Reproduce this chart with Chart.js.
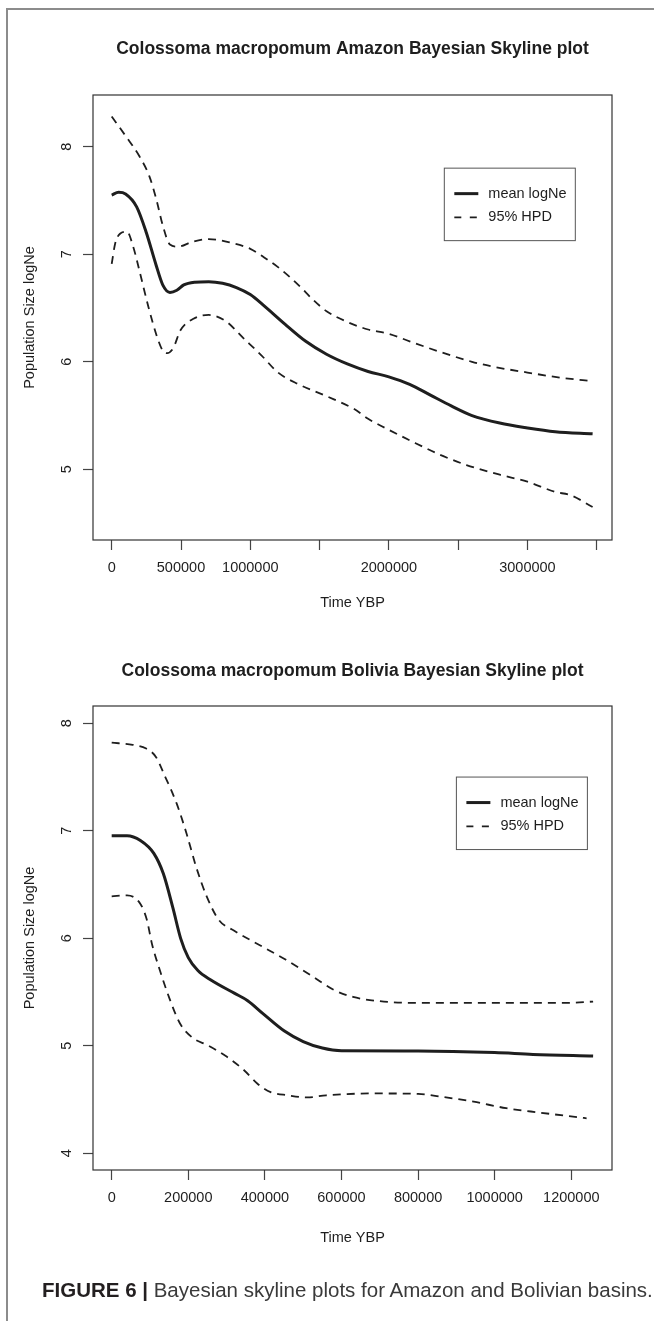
<!DOCTYPE html>
<html>
<head>
<meta charset="utf-8">
<script src="https://cdn.jsdelivr.net/npm/chart.js@4.4.1/dist/chart.umd.min.js"></script>
<style>
    body { margin: 0; background: #fff; width: 654px; height: 1321px; position: relative; overflow: hidden; font-family: "Liberation Sans", Arial, sans-serif; }
    .frame-top { position: absolute; left: 6px; top: 8px; width: 648px; height: 2px; background: #8c8c8c; }
    .frame-left { position: absolute; left: 6px; top: 8px; width: 2px; height: 1313px; background: #8c8c8c; }
    #amazon-chart { position: absolute; left: 0; top: 0; }
    #bolivia-chart { position: absolute; left: 0; top: 640px; }
    .caption { position: absolute; left: 42px; top: 1278px; font-size: 20.5px; color: #3a3a3a; white-space: nowrap; }
    .caption b { color: #231f20; }
</style>
</head>
<body>
<div class="frame-top"></div>
<div class="frame-left"></div>
<canvas id="amazon-chart" width="654" height="640"></canvas>
<canvas id="bolivia-chart" width="654" height="660"></canvas>
<div class="caption"><b>FIGURE 6 |</b> Bayesian skyline plots for Amazon and Bolivian basins.</div>

<script>
// Amazon basin
const amazonMeanTime = [0, 50000, 100000, 180000, 250000, 320000, 370000, 420000, 470000, 520000, 600000, 700000, 800000, 900000, 1000000, 1100000, 1250000, 1400000, 1550000, 1700000, 1850000, 2000000, 2150000, 2300000, 2450000, 2600000, 2800000, 3000000, 3200000, 3470000];
const amazonMean = [7.55, 7.575, 7.56, 7.44, 7.20, 6.90, 6.71, 6.645, 6.665, 6.715, 6.74, 6.745, 6.73, 6.69, 6.625, 6.52, 6.35, 6.19, 6.07, 5.98, 5.91, 5.86, 5.79, 5.69, 5.59, 5.50, 5.43, 5.385, 5.35, 5.33];
const amazonUpperTime = [0, 100000, 200000, 270000, 320000, 370000, 420000, 480000, 580000, 700000, 850000, 1000000, 1100000, 1200000, 1350000, 1450000, 1550000, 1700000, 1850000, 2000000, 2150000, 2350000, 2600000, 2750000, 3000000, 3250000, 3470000];
const amazonUpper = [8.28, 8.10, 7.91, 7.73, 7.52, 7.26, 7.09, 7.07, 7.115, 7.14, 7.11, 7.05, 6.97, 6.88, 6.71, 6.58, 6.47, 6.37, 6.30, 6.26, 6.19, 6.10, 6.00, 5.955, 5.90, 5.85, 5.82];
const amazonLowerTime = [0, 25000, 60000, 110000, 155000, 205000, 265000, 325000, 370000, 400000, 445000, 495000, 590000, 700000, 820000, 950000, 1080000, 1200000, 1350000, 1550000, 1750000, 1850000, 1980000, 2150000, 2370000, 2560000, 2800000, 3000000, 3200000, 3310000, 3470000];
const amazonLower = [6.91, 7.10, 7.19, 7.21, 7.07, 6.82, 6.51, 6.24, 6.10, 6.08, 6.13, 6.29, 6.40, 6.435, 6.38, 6.22, 6.06, 5.90, 5.79, 5.68, 5.56, 5.47, 5.38, 5.27, 5.135, 5.04, 4.95, 4.885, 4.79, 4.76, 4.65];
const amazonXTicks = [0, 500000, 1000000, 1500000, 2000000, 2500000, 3000000, 3500000];
const amazonXLabels = ['0', '500000', '1000000', '', '2000000', '', '3000000', ''];
const amazonYTicks = [5, 6, 7, 8];

// Bolivia basin
const boliviaMeanTime = [0, 40000, 75000, 110000, 135000, 160000, 180000, 200000, 225000, 260000, 320000, 355000, 395000, 450000, 500000, 550000, 600000, 800000, 1000000, 1100000, 1257000];
const boliviaMean = [6.955, 6.955, 6.91, 6.79, 6.60, 6.28, 6.00, 5.82, 5.70, 5.61, 5.49, 5.42, 5.30, 5.14, 5.04, 4.98, 4.955, 4.952, 4.937, 4.92, 4.905];
const boliviaUpperTime = [0, 55000, 90000, 115000, 140000, 170000, 195000, 220000, 248000, 280000, 320000, 395000, 455000, 525000, 580000, 630000, 700000, 780000, 1000000, 1200000, 1257000];
const boliviaUpper = [7.82, 7.80, 7.765, 7.69, 7.50, 7.25, 6.98, 6.67, 6.39, 6.17, 6.07, 5.92, 5.80, 5.645, 5.52, 5.455, 5.415, 5.40, 5.40, 5.40, 5.412];
const boliviaLowerTime = [0, 40000, 75000, 92000, 105000, 126000, 152000, 178000, 213000, 248000, 300000, 345000, 380000, 415000, 460000, 510000, 560000, 680000, 800000, 860000, 945000, 1030000, 1120000, 1240000];
const boliviaLower = [6.39, 6.40, 6.32, 6.17, 5.95, 5.70, 5.43, 5.21, 5.07, 5.01, 4.90, 4.775, 4.65, 4.57, 4.54, 4.52, 4.54, 4.557, 4.553, 4.527, 4.48, 4.42, 4.378, 4.326];
const boliviaXTicks = [0, 200000, 400000, 600000, 800000, 1000000, 1200000];
const boliviaXLabels = ['0', '200000', '400000', '600000', '800000', '1000000', '1200000'];
const boliviaYTicks = [4, 5, 6, 7, 8];

const legendLabels = ['mean logNe', '95% HPD'];

const FONT = '"Liberation Sans", Arial, sans-serif';
const INK = '#1e1e1e';

function toPoints(xs, ys) {
    return xs.map((x, i) => ({ x: x, y: ys[i] }));
}

// box, title, rotated y labels and legend, R style
const skylinePlugin = {
    id: 'skyline',
    afterDraw(chart, args, opts) {
        const { ctx, chartArea: area, scales } = chart;
        ctx.save();

        ctx.strokeStyle = '#333';
        ctx.lineWidth = 1.2;
        ctx.strokeRect(area.left, area.top, area.right - area.left, area.bottom - area.top);

        ctx.fillStyle = INK;
        ctx.font = `bold 17.5px ${FONT}`;
        ctx.textAlign = 'center';
        ctx.textBaseline = 'middle';
        ctx.fillText(opts.title, (area.left + area.right) / 2, opts.titleY);

        ctx.font = `14.5px ${FONT}`;
        opts.yTicks.forEach(v => {
            ctx.save();
            ctx.translate(67, scales.y.getPixelForValue(v));
            ctx.rotate(-Math.PI / 2);
            ctx.fillText(String(v), 0, 0);
            ctx.restore();
        });

        const lx = scales.x.getPixelForValue(opts.legendAt[0]);
        const ly = scales.y.getPixelForValue(opts.legendAt[1]);
        ctx.strokeStyle = '#555';
        ctx.lineWidth = 1;
        ctx.strokeRect(lx, ly, 131, 72.5);

        ctx.strokeStyle = INK;
        ctx.lineWidth = 3;
        ctx.beginPath();
        ctx.moveTo(lx + 10, ly + 25.5);
        ctx.lineTo(lx + 34, ly + 25.5);
        ctx.stroke();

        ctx.lineWidth = 1.8;
        ctx.setLineDash([7, 8.5]);
        ctx.beginPath();
        ctx.moveTo(lx + 10, ly + 49.3);
        ctx.lineTo(lx + 34, ly + 49.3);
        ctx.stroke();
        ctx.setLineDash([]);

        ctx.textAlign = 'left';
        ctx.fillText(legendLabels[0], lx + 44, ly + 25.5);
        ctx.fillText(legendLabels[1], lx + 44, ly + 49.3);

        ctx.restore();
    }
};

function buildChart(canvasId, cfg) {
    const ctx = document.getElementById(canvasId).getContext('2d');
    const lineBase = { pointRadius: 0, borderColor: INK, fill: false, cubicInterpolationMode: 'monotone' };

    return new Chart(ctx, {
        type: 'line',
        data: {
            datasets: [
                { ...lineBase, label: legendLabels[0], data: toPoints(cfg.meanTime, cfg.mean), borderWidth: 3 },
                { ...lineBase, label: legendLabels[1], data: toPoints(cfg.upperTime, cfg.upper), borderWidth: 1.8, borderDash: [8, 6] },
                { ...lineBase, label: legendLabels[1], data: toPoints(cfg.lowerTime, cfg.lower), borderWidth: 1.8, borderDash: [8, 6] }
            ]
        },
        plugins: [skylinePlugin],
        options: {
            responsive: false,
            animation: false,
            devicePixelRatio: 1,
            layout: { padding: { left: 0, right: 42, top: cfg.padTop, bottom: 0 } },
            plugins: {
                legend: { display: false },
                tooltip: { enabled: false },
                skyline: { title: cfg.title, titleY: cfg.titleY, yTicks: cfg.yTicks, legendAt: cfg.legendAt }
            },
            scales: {
                x: {
                    type: 'linear',
                    min: cfg.xRange[0],
                    max: cfg.xRange[1],
                    afterBuildTicks: s => { s.ticks = cfg.xTicks.map(v => ({ value: v })); },
                    afterFit: s => { s.height = cfg.xAxisHeight; },
                    border: { display: false },
                    grid: { drawOnChartArea: false, drawTicks: true, tickLength: 10, tickColor: '#444', tickWidth: 1.2 },
                    ticks: {
                        autoSkip: false,
                        maxRotation: 0,
                        padding: 9,
                        color: INK,
                        font: { family: FONT, size: 14.5 },
                        callback: (v, i) => cfg.xLabels[i]
                    },
                    title: { display: true, text: 'Time YBP', color: INK, font: { family: FONT, size: 14.5 }, padding: { top: 0, bottom: cfg.xTitlePad } }
                },
                y: {
                    type: 'linear',
                    min: cfg.yRange[0],
                    max: cfg.yRange[1],
                    afterBuildTicks: s => { s.ticks = cfg.yTicks.map(v => ({ value: v })); },
                    afterFit: s => { s.width = 93; },
                    border: { display: false },
                    grid: { drawOnChartArea: false, drawTicks: true, tickLength: 10, tickColor: '#444', tickWidth: 1.2 },
                    ticks: { display: false },
                    title: { display: true, text: 'Population Size logNe', color: INK, font: { family: FONT, size: 14.5 }, padding: { top: 21, bottom: 0 } }
                }
            }
        }
    });
}

buildChart('amazon-chart', {
    title: 'Colossoma macropomum Amazon Bayesian Skyline plot',
    titleY: 49,
    padTop: 95,
    xAxisHeight: 100,
    xTitlePad: 28,
    xRange: [-135000, 3610000],
    yRange: [4.343, 8.48],
    xTicks: amazonXTicks,
    xLabels: amazonXLabels,
    yTicks: amazonYTicks,
    legendAt: [2400000, 7.8],
    meanTime: amazonMeanTime, mean: amazonMean,
    upperTime: amazonUpperTime, upper: amazonUpper,
    lowerTime: amazonLowerTime, lower: amazonLower
});

buildChart('bolivia-chart', {
    title: 'Colossoma macropomum Bolivia Bayesian Skyline plot',
    titleY: 30.7,
    padTop: 66,
    xAxisHeight: 130,
    xTitlePad: 53,
    xRange: [-48800, 1306300],
    yRange: [3.845, 8.161],
    xTicks: boliviaXTicks,
    xLabels: boliviaXLabels,
    yTicks: boliviaYTicks,
    legendAt: [900000, 7.5],
    meanTime: boliviaMeanTime, mean: boliviaMean,
    upperTime: boliviaUpperTime, upper: boliviaUpper,
    lowerTime: boliviaLowerTime, lower: boliviaLower
});
</script>
</body>
</html>
